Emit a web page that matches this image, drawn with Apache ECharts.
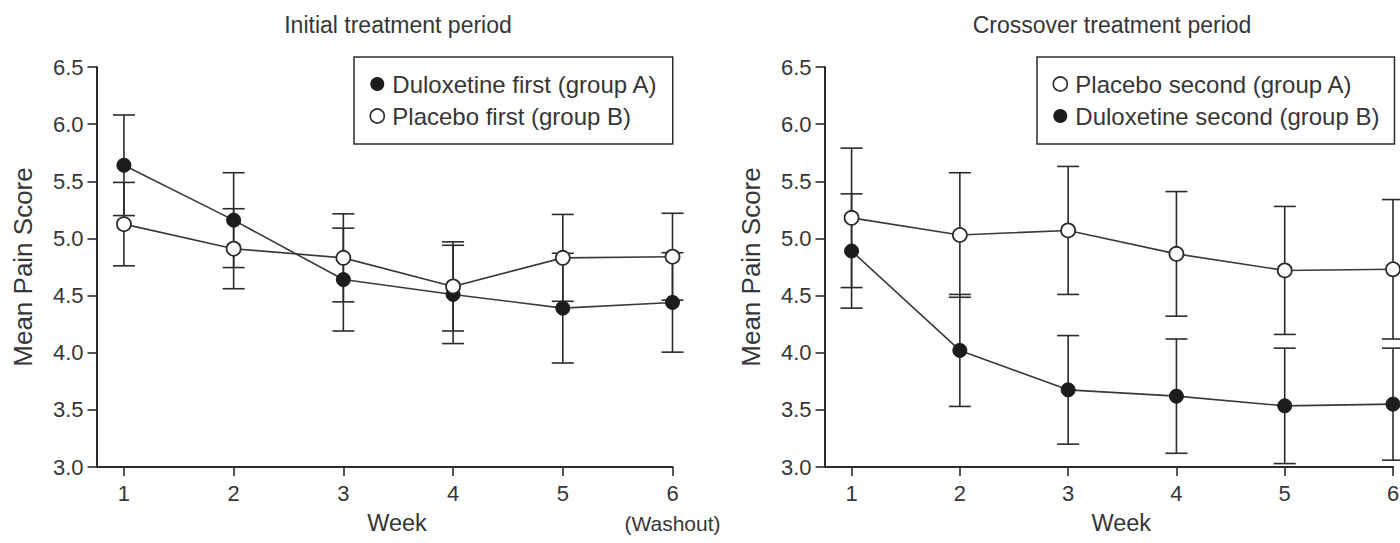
<!DOCTYPE html>
<html>
<head>
<meta charset="utf-8">
<title>Mean pain score by week</title>
<script src="https://cdn.jsdelivr.net/npm/echarts@6/dist/echarts.min.js"></script>
<style>
  html, body { margin: 0; padding: 0; background: #fff; }
  #chart { width: 1400px; height: 543px; }
</style>
</head>
<body>
<div id="chart"></div>
<script>
// ---- data -------------------------------------------------------------
const weeks = [1, 2, 3, 4, 5, 6];
const washoutNote = '(Washout)';

const panelTitles = ['Initial treatment period', 'Crossover treatment period'];
const yAxisTitle = 'Mean Pain Score';
const xAxisTitle = 'Week';

// Initial period
const duloxFirstName = 'Duloxetine first (group A)';
const duloxFirstMean = [5.64, 5.16, 4.64, 4.51, 4.39, 4.44];
const duloxFirstErr  = [0.44, 0.415, 0.45, 0.43, 0.48, 0.435];
const placeboFirstName = 'Placebo first (group B)';
const placeboFirstMean = [5.125, 4.91, 4.83, 4.58, 4.83, 4.84];
const placeboFirstErr  = [0.365, 0.35, 0.385, 0.39, 0.38, 0.38];

// Crossover period
const placeboSecondName = 'Placebo second (group A)';
const placeboSecondMean = [5.18, 5.03, 5.07, 4.865, 4.72, 4.73];
const placeboSecondErr  = [0.61, 0.545, 0.56, 0.545, 0.56, 0.61];
const duloxSecondName = 'Duloxetine second (group B)';
const duloxSecondMean = [4.89, 4.02, 3.675, 3.62, 3.535, 3.55];
const duloxSecondErr  = [0.50, 0.49, 0.475, 0.50, 0.505, 0.49];

// ---- styling ----------------------------------------------------------
const FONT = '"Liberation Sans", Arial, Helvetica, sans-serif';
const INK = '#2b2b2b';
const TEXT = '#363636';

const points = (mean) => weeks.map((w, i) => [w, mean[i]]);
const bars = (mean, err) => weeks.map((w, i) => [w, mean[i] - err[i], mean[i] + err[i]]);

// vertical error bar with a cap at each end
function renderErrorBar(params, api) {
  const x = api.value(0);
  const lo = api.coord([x, api.value(1)]);
  const hi = api.coord([x, api.value(2)]);
  const half = 11;
  const style = { stroke: INK, lineWidth: 1.6 };
  return {
    type: 'group',
    children: [
      { type: 'line', shape: { x1: hi[0], y1: hi[1], x2: lo[0], y2: lo[1] }, style },
      { type: 'line', shape: { x1: hi[0] - half, y1: hi[1], x2: hi[0] + half, y2: hi[1] }, style },
      { type: 'line', shape: { x1: lo[0] - half, y1: lo[1], x2: lo[0] + half, y2: lo[1] }, style }
    ]
  };
}

function errorSeries(name, idx, mean, err) {
  return {
    name: name + ' SE',
    type: 'custom',
    xAxisIndex: idx,
    yAxisIndex: idx,
    z: 1,
    renderItem: renderErrorBar,
    encode: { x: 0, y: [1, 2] },
    data: bars(mean, err),
    silent: true
  };
}

function lineSeries(name, idx, mean, filled) {
  return {
    name,
    type: 'line',
    xAxisIndex: idx,
    yAxisIndex: idx,
    z: 3,
    symbol: 'circle',
    symbolSize: 14,
    showAllSymbol: true,
    data: points(mean),
    lineStyle: { color: '#3a3a3a', width: 1.6 },
    itemStyle: filled
      ? { color: '#1c1c1c', borderColor: '#1c1c1c', borderWidth: 1 }
      : { color: '#ffffff', borderColor: INK, borderWidth: 1.8 },
    emphasis: { disabled: true }
  };
}

const filledIcon = { color: '#1c1c1c', borderWidth: 0 };
const openIcon = { color: '#ffffff', borderColor: INK, borderWidth: 1.6 };

function legendBox(left, items) {
  return {
    left, top: 57,
    orient: 'vertical',
    selectedMode: false,
    itemWidth: 20,
    itemHeight: 14,
    itemGap: 8,
    padding: [15, 15, 16, 15.5],
    borderColor: INK,
    borderWidth: 1.5,
    textStyle: { fontFamily: FONT, fontSize: 24, color: TEXT, lineHeight: 24 },
    data: items.map(([name, style]) => ({ name, icon: 'circle', itemStyle: style }))
  };
}

function xAxisFor(idx, withWashout) {
  return {
    type: 'value',
    gridIndex: idx,
    min: 0.75,
    max: 6,
    name: xAxisTitle,
    nameLocation: 'middle',
    nameGap: 44,
    nameMoveOverlap: false,
    nameTextStyle: { fontFamily: FONT, fontSize: 23.5, color: TEXT, lineHeight: 24, padding: [0, 0, 0, 25] },
    axisLine: { show: true, lineStyle: { color: INK, width: 2 } },
    axisTick: { show: true, length: 9, customValues: weeks, lineStyle: { color: INK, width: 1.6 } },
    axisLabel: {
      customValues: weeks,
      margin: 11,
      fontFamily: FONT,
      fontSize: 22,
      lineHeight: 30,
      color: TEXT,
      formatter: (v) => (withWashout && v === weeks[weeks.length - 1]) ? v + '\n{w|' + washoutNote + '}' : String(v),
      rich: { w: { fontFamily: FONT, fontSize: 21, lineHeight: 30, color: TEXT } }
    },
    splitLine: { show: false }
  };
}

function yAxisFor(idx) {
  return {
    type: 'value',
    gridIndex: idx,
    min: 3,
    max: 6.5,
    interval: 0.5,
    name: yAxisTitle,
    nameLocation: 'middle',
    nameGap: 61,
    nameMoveOverlap: false,
    nameTextStyle: { fontFamily: FONT, fontSize: 26, color: TEXT },
    axisLine: { show: true, lineStyle: { color: INK, width: 2 } },
    axisTick: { show: true, length: 9, lineStyle: { color: INK, width: 1.6 } },
    axisLabel: {
      margin: 13,
      fontFamily: FONT,
      fontSize: 22,
      color: TEXT,
      formatter: (v) => v.toFixed(1)
    },
    splitLine: { show: false }
  };
}

const chart = echarts.init(document.getElementById('chart'), null, { renderer: 'svg' });

chart.setOption({
  animation: false,
  backgroundColor: '#ffffff',
  title: [
    { text: panelTitles[0], left: 398, top: 13, textAlign: 'center', padding: 0,
      textStyle: { fontFamily: FONT, fontSize: 23, fontWeight: 'normal', color: TEXT, lineHeight: 24 } },
    { text: panelTitles[1], left: 1112, top: 13, textAlign: 'center', padding: 0,
      textStyle: { fontFamily: FONT, fontSize: 23, fontWeight: 'normal', color: TEXT, lineHeight: 24 } }
  ],
  legend: [
    legendBox(354, [[duloxFirstName, filledIcon], [placeboFirstName, openIcon]]),
    legendBox(1037, [[placeboSecondName, openIcon], [duloxSecondName, filledIcon]])
  ],
  grid: [
    { left: 96.5, top: 67, width: 576, height: 400, containLabel: false, outerBoundsMode: 'none' },
    { left: 824.5, top: 67, width: 568.5, height: 400, containLabel: false, outerBoundsMode: 'none' }
  ],
  xAxis: [xAxisFor(0, true), xAxisFor(1, false)],
  yAxis: [yAxisFor(0), yAxisFor(1)],
  series: [
    errorSeries(duloxFirstName, 0, duloxFirstMean, duloxFirstErr),
    errorSeries(placeboFirstName, 0, placeboFirstMean, placeboFirstErr),
    lineSeries(duloxFirstName, 0, duloxFirstMean, true),
    lineSeries(placeboFirstName, 0, placeboFirstMean, false),

    errorSeries(placeboSecondName, 1, placeboSecondMean, placeboSecondErr),
    errorSeries(duloxSecondName, 1, duloxSecondMean, duloxSecondErr),
    lineSeries(placeboSecondName, 1, placeboSecondMean, false),
    lineSeries(duloxSecondName, 1, duloxSecondMean, true)
  ]
});
</script>
</body>
</html>
